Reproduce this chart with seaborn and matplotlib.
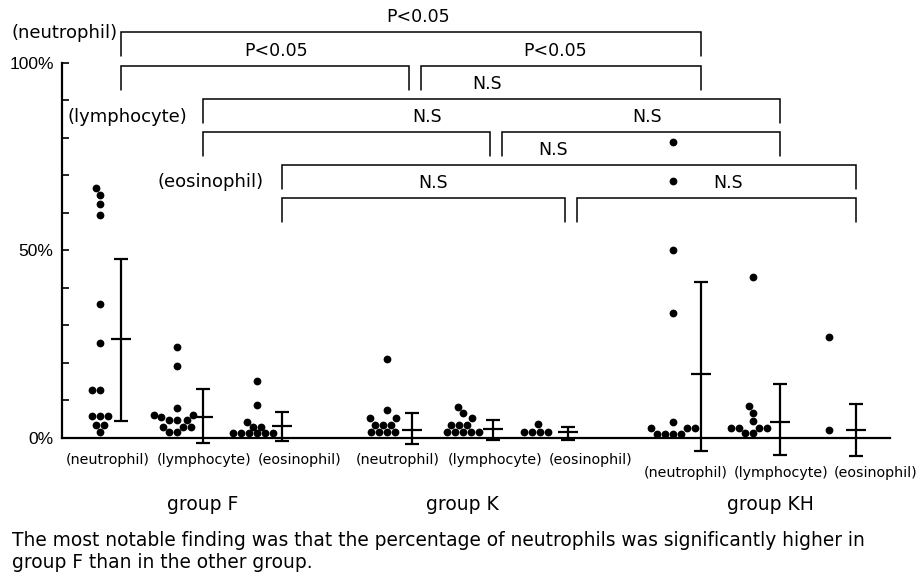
import numpy as np
import pandas as pd
import matplotlib
matplotlib.use("Agg")
import matplotlib.pyplot as plt
import seaborn as sns
from matplotlib import font_manager as fm

# ---------------- data (percent) ----------------
groups = ["group F", "group K", "group KH"]
cells = ["(neutrophil)", "(lymphocyte)", "(eosinophil)"]

F_neutrophil = [66.5, 64.7, 62.3, 59.4, 35.6, 25.4, 12.8, 12.8, 5.9, 5.9, 5.9, 3.5, 3.5, 1.7]
F_lymphocyte = [24.3, 19.3, 7.9, 6.2, 6.2, 5.6, 4.7, 4.7, 4.7, 2.9, 2.9, 2.9, 1.5, 1.5]
F_eosinophil = [15.2, 8.8, 4.3, 3.0, 3.0, 1.2, 1.2, 1.2, 1.2, 1.2, 1.2]
K_neutrophil = [21.0, 7.5, 5.2, 5.2, 3.5, 3.5, 3.5, 1.7, 1.7, 1.7, 1.7]
K_lymphocyte = [8.3, 6.6, 5.2, 3.5, 3.5, 3.5, 1.7, 1.7, 1.7, 1.7, 1.7]
K_eosinophil = [3.7, 1.7, 1.7, 1.7, 1.7]
KH_neutrophil = [78.9, 68.4, 50.2, 33.4, 4.2, 2.6, 2.6, 2.6, 1.1, 1.1, 1.1, 1.1]
KH_lymphocyte = [43.0, 8.5, 6.7, 4.6, 2.6, 2.6, 2.6, 2.6, 1.2, 1.2]
KH_eosinophil = [26.8, 2.1]

# mean and error-bar ends (percent), order F-neu, F-lym, F-eos, K-..., KH-...
mean_pct = [26.3, 5.7, 3.2, 2.2, 2.4, 1.7, 17.0, 4.2, 2.1]
upper_pct = [47.6, 13.0, 6.8, 6.7, 4.9, 3.0, 41.5, 14.3, 9.1]
lower_pct = [4.6, -1.2, -0.7, -1.7, -0.5, -0.5, -3.5, -4.5, -4.8]

# comparisons: (cell index, group a, group b, bracket row, label)
comparisons = [
    (0, 0, 2, 0, "P<0.05"),
    (0, 0, 1, 1, "P<0.05"),
    (0, 1, 2, 1, "P<0.05"),
    (1, 0, 2, 2, "N.S"),
    (1, 0, 1, 3, "N.S"),
    (1, 1, 2, 3, "N.S"),
    (2, 0, 2, 4, "N.S"),
    (2, 0, 1, 5, "N.S"),
    (2, 1, 2, 5, "N.S"),
]
yticks = [0, 50, 100]
ytick_labels = ["0%", "50%", "100%"]
caption = ("The most notable finding was that the percentage of neutrophils was significantly higher in\n"
           "group F than in the other group.")

# ---------------- layout ----------------
series = [F_neutrophil, F_lymphocyte, F_eosinophil,
          K_neutrophil, K_lymphocyte, K_eosinophil,
          KH_neutrophil, KH_lymphocyte, KH_eosinophil]
dot_pos = [38, 115, 195, 325, 401, 478, 611, 691, 767]
err_pos = [59, 141, 220, 350, 431, 506, 639, 718, 794]
label_pos = [46, 142, 238, 336, 433, 529, 624, 719, 814]
label_y = [-5.9, -5.9, -5.9, -5.9, -5.9, -5.9, -9.3, -9.3, -9.3]
row_levels = [108.2, 99.1, 90.3, 81.5, 72.7, 63.9]
leg = 6.4
text_x = [356, 214, 493, 425, 365, 585, 491, 371, 666]
side_labels = [(56, 107.9, "right"), (5, 85.5, "left"), (95, 68.3, "left")]
group_x = [203, 462, 770]

names = {f.name for f in fm.fontManager.ttflist}
if "Liberation Sans Narrow" in names:
    narrow_font, narrow_size = "Liberation Sans Narrow", 13.5
else:
    narrow_font, narrow_size = "DejaVu Sans", 10.3

sns.set_style("white")
plt.rcParams["font.family"] = ["DejaVu Sans"]
plt.rcParams["text.color"] = "black"
plt.rcParams["ytick.color"] = "black"
plt.rcParams["xtick.color"] = "black"
plt.rcParams["axes.labelcolor"] = "black"

fig = plt.figure(figsize=(9.21, 5.77), dpi=100)
ax = fig.add_axes([62 / 921, 97 / 577, 830 / 921, 480 / 577])

df = pd.DataFrame({
    "pos": np.repeat(dot_pos, [len(s) for s in series]).astype(float),
    "pct": np.concatenate(series),
})
sns.swarmplot(data=df, x="pos", y="pct", native_scale=True, orient="x",
              color="black", size=5.6, linewidth=0, ax=ax)

m = np.array(mean_pct)
up = np.array(upper_pct)
lo = np.array(lower_pct)
ax.errorbar(err_pos, m, yerr=[m - lo, up - m], fmt="none", ecolor="black",
            elinewidth=1.6, capsize=5, capthick=1.6, zorder=3)
ax.plot(err_pos, m, ls="none", marker="_", ms=15, mew=1.6, color="black", zorder=3)

# comparison brackets
for (c, a, b, r, lab), tx in zip(comparisons, text_x):
    x0 = err_pos[a * 3 + c] + (9 if a == 1 else 0)
    x1 = err_pos[b * 3 + c] - (3 if b == 1 else 0)
    yl = row_levels[r]
    ax.plot([x0, x0, x1, x1], [yl - leg, yl, yl, yl - leg], color="black", lw=1.1,
            solid_joinstyle="miter", clip_on=False)
    ax.text(tx, yl + 4.1, lab, ha="center", va="center", fontsize=12.5, color="black")

for (sx, sy, ha), lab in zip(side_labels, cells):
    ax.text(sx, sy, lab, ha=ha, va="center", fontsize=13, color="black")

for i, (lx, ly) in enumerate(zip(label_pos, label_y)):
    ax.text(lx, ly, cells[i % 3], ha="center", va="center",
            fontsize=narrow_size, family=narrow_font, color="black")

for gx, g in zip(group_x, groups):
    fig.text(gx / 921, 1 - 505 / 577, g, ha="center", va="center", fontsize=13.5,
             color="black")

fig.text(12 / 921, 1 - 551 / 577, caption, ha="left", va="center", fontsize=13.4,
         linespacing=1.2, color="black")

# axes styling
ax.set_xlim(0, 830)
ax.set_ylim(-11.19, 116.7)
ax.set_xticks([])
ax.set_xlabel("")
ax.set_ylabel("")
for s in ["top", "right"]:
    ax.spines[s].set_visible(False)
ax.spines["left"].set_bounds(0, 100)
ax.spines["left"].set_linewidth(1.6)
ax.spines["bottom"].set_position(("data", 0))
ax.spines["bottom"].set_bounds(0, 828)
ax.spines["bottom"].set_linewidth(1.6)
for s in ["left", "bottom"]:
    ax.spines[s].set_color("black")
ax.set_yticks(yticks)
ax.set_yticklabels(ytick_labels, fontsize=12.5, family="Liberation Sans")
ax.set_yticks(np.arange(10, 100, 10), minor=True)
ax.tick_params(axis="y", which="both", direction="in", length=5, width=1.2,
               left=True, color="black", labelcolor="black", pad=6)
ax.grid(False)

fig.savefig("out.png", dpi=100)
